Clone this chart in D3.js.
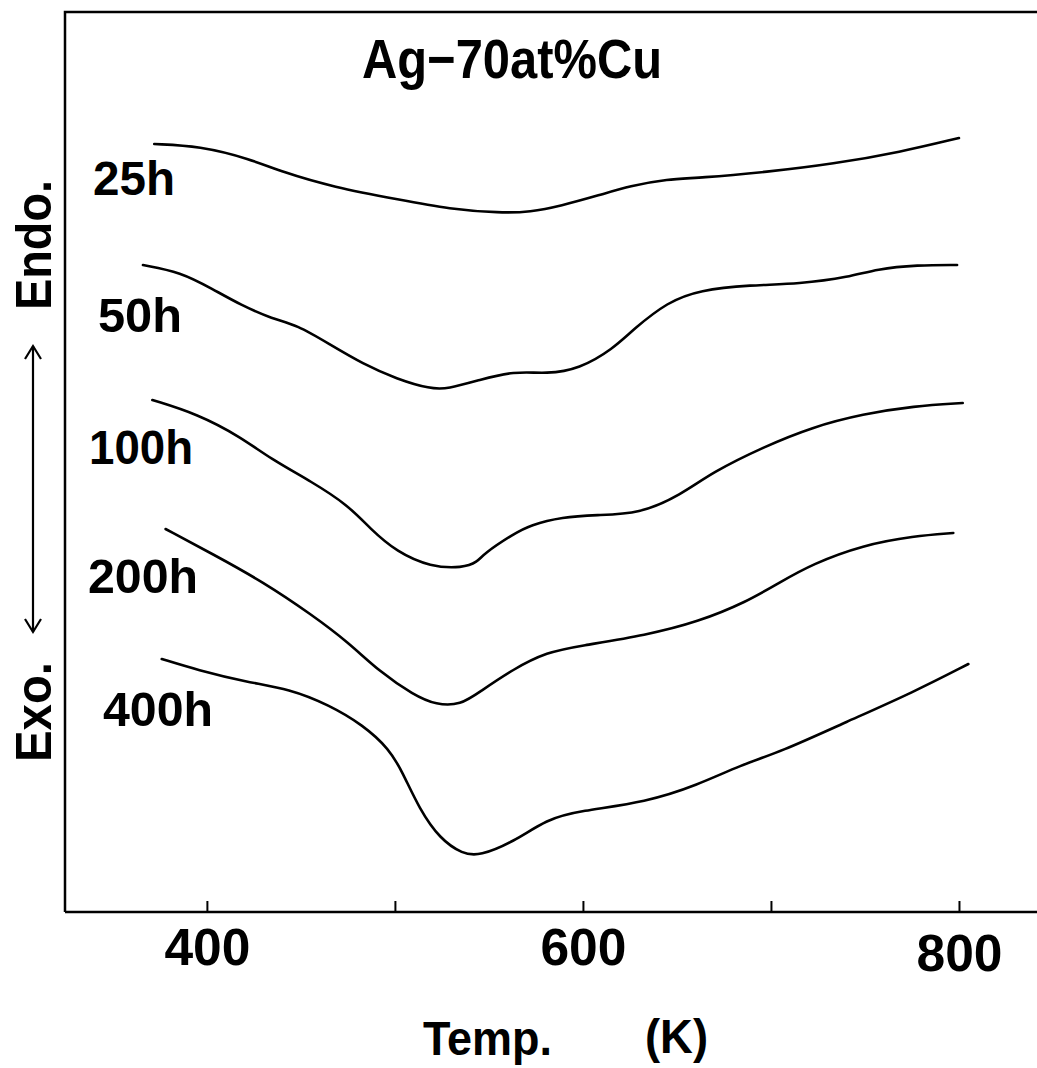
<!DOCTYPE html>
<html><head><meta charset="utf-8">
<script src="https://cdn.jsdelivr.net/npm/d3@7"></script>
<style>html,body{margin:0;padding:0;background:#fff;} svg{display:block}</style>
</head><body>
<script>
// ---- data (temperature K, signal in arbitrary units, endo up) ----
const seriesNames = ["25h", "50h", "100h", "200h", "400h"];

const temps25 = [372,396,423,440,467,503,529,556,572,588,609,625,645,662,698,733,769,800];
const vals25  = [76.8,76.6,75.3,74.0,72.5,71.2,70.3,69.9,70.0,70.6,71.7,72.6,73.3,73.4,74.0,74.8,76.0,77.4];

const temps50 = [366,386,403,418,435,448,465,483,501,519,528,545,563,581,598,616,627,645,662,689,715,742,756,778,799];
const vals50  = [64.7,64.0,62.3,60.7,59.3,58.7,56.8,54.8,53.3,52.3,52.3,53.2,54.1,53.8,54.3,56.3,58.3,61.0,62.2,62.7,62.8,63.5,64.3,64.7,64.7];

const temps100 = [371,395,418,434,456,475,487,501,519,536,544,547,563,572,589,607,630,652,669,696,722,749,776,802];
const vals100  = [51.2,49.8,47.5,45.3,43.0,40.7,38.3,36.0,34.5,34.4,35.0,35.8,37.8,38.7,39.5,39.7,39.8,41.7,44.0,46.5,48.5,49.8,50.6,50.9];

const temps200 = [378,403,430,456,475,492,510,522,535,545,563,581,598,634,661,687,705,722,749,776,797];
const vals200  = [38.3,35.8,33.0,29.7,27.0,24.0,21.7,20.7,20.7,22.0,24.3,26.0,26.6,27.7,29.0,31.0,33.0,34.8,36.7,37.6,37.9];

const temps400 = [376,395,421,444,465,483,497,504,513,524,536,545,563,581,598,634,661,684,705,740,776,805];
const vals400  = [25.3,24.2,23.0,22.3,20.7,18.7,16.3,14.0,10.3,7.3,5.8,5.6,7.0,9.3,10.1,11.0,12.7,14.7,16.0,19.0,22.0,24.8];

const seriesTemps = [temps25, temps50, temps100, temps200, temps400];
const seriesVals  = [vals25, vals50, vals100, vals200, vals400];

const tickValues = [400, 500, 600, 700, 800];
const tickLabels = ["400", "", "600", "", "800"];
const titleText = "Ag\u221270at%Cu";
const xTitleParts = ["Temp.", "(K)"];
const yLabelEndo = "Endo.";
const yLabelExo = "Exo.";

(function () {
// ---- layout ----
const W = 1037, H = 1068;
const mLeft = 65, mRight = 1037, mTop = 12, mBottom = 912;
const FONT = "'Liberation Sans', Arial, Helvetica, sans-serif";

const svg = d3.select("body").append("svg").attr("width", W).attr("height", H);

const x = d3.scaleLinear().domain([324, 841.5]).range([64, 1037]);
const y = d3.scaleLinear().domain([0, 90]).range([mBottom, mTop]);

// frame: left + top
svg.append("path")
  .attr("d", `M${mLeft},${mBottom} L${mLeft},${mTop} L${mRight},${mTop}`)
  .attr("fill", "none").attr("stroke", "#000").attr("stroke-width", 2.5);

// x axis
const axis = d3.axisBottom(x).tickValues(tickValues)
  .tickFormat((d, i) => tickLabels[i]).tickSizeInner(-11).tickSizeOuter(0).tickPadding(20);
const gx = svg.append("g").attr("transform", `translate(0,${mBottom})`).call(axis);
gx.select(".domain").attr("d", `M${mLeft},0H${mRight}`).attr("stroke", "#000").attr("stroke-width", 2.5);
gx.selectAll(".tick line").attr("stroke", "#000").attr("stroke-width", 2);
gx.selectAll(".tick text")
  .attr("font-family", FONT).attr("font-weight", "bold").attr("font-size", 52)
  .attr("fill", "#000").attr("dy", null)
  .attr("y", (d) => d === 800 ? 59 : 53)
  .attr("textLength", (d, i) => tickLabels[i] ? 86 : null)
  .attr("lengthAdjust", "spacingAndGlyphs");

// curves
const line = d3.line().x(d => x(d[0])).y(d => y(d[1])).curve(d3.curveBasis);
seriesNames.forEach((name, i) => {
  const pts = seriesTemps[i].map((t, j) => [t, seriesVals[i][j]]);
  svg.append("path").datum(pts).attr("d", line)
    .attr("fill", "none").attr("stroke", "#000").attr("stroke-width", 2.6)
    .attr("stroke-linejoin", "round").attr("stroke-linecap", "round");
});

// series labels
const labelPos = [[93,195,82],[98,332,84],[89,464,104],[88,593,110],[103,726,110]];
seriesNames.forEach((name, i) => {
  svg.append("text").text(name)
    .attr("x", labelPos[i][0]).attr("y", labelPos[i][1])
    .attr("textLength", labelPos[i][2]).attr("lengthAdjust", "spacingAndGlyphs")
    .attr("font-family", FONT).attr("font-weight", "bold").attr("font-size", 48)
    .attr("fill", "#000");
});

// title
svg.append("text").text(titleText)
  .attr("x", 362).attr("y", 78).attr("textLength", 300).attr("lengthAdjust", "spacingAndGlyphs")
  .attr("font-family", FONT).attr("font-weight", "bold").attr("font-size", 55).attr("fill", "#000");

// x title
svg.append("text").text(xTitleParts[0])
  .attr("x", 423).attr("y", 1055).attr("textLength", 129).attr("lengthAdjust", "spacingAndGlyphs")
  .attr("font-family", FONT).attr("font-weight", "bold").attr("font-size", 48).attr("fill", "#000");
svg.append("text").text(xTitleParts[1])
  .attr("x", 645).attr("y", 1053).attr("textLength", 63).attr("lengthAdjust", "spacingAndGlyphs")
  .attr("font-family", FONT).attr("font-weight", "bold").attr("font-size", 48).attr("fill", "#000");

// y labels (rotated)
function vlabel(txt, cy, len) {
  svg.append("text").text(txt)
    .attr("transform", `translate(51,${cy}) rotate(-90)`)
    .attr("text-anchor", "middle").attr("textLength", len).attr("lengthAdjust", "spacingAndGlyphs")
    .attr("font-family", FONT).attr("font-weight", "bold").attr("font-size", 50).attr("fill", "#000");
}
vlabel(yLabelEndo, 245, 130);
vlabel(yLabelExo, 712, 100);

// double arrow
const ax = 33, ay1 = 346, ay2 = 632;
svg.append("line").attr("x1", ax).attr("x2", ax).attr("y1", ay1).attr("y2", ay2)
  .attr("stroke", "#000").attr("stroke-width", 2.2);
svg.append("path").attr("d", `M${ax-8},${ay1+13} L${ax},${ay1} L${ax+8},${ay1+13}`)
  .attr("fill", "none").attr("stroke", "#000").attr("stroke-width", 2.2);
svg.append("path").attr("d", `M${ax-8},${ay2-13} L${ax},${ay2} L${ax+8},${ay2-13}`)
  .attr("fill", "none").attr("stroke", "#000").attr("stroke-width", 2.2);
})();
</script>
</body></html>
